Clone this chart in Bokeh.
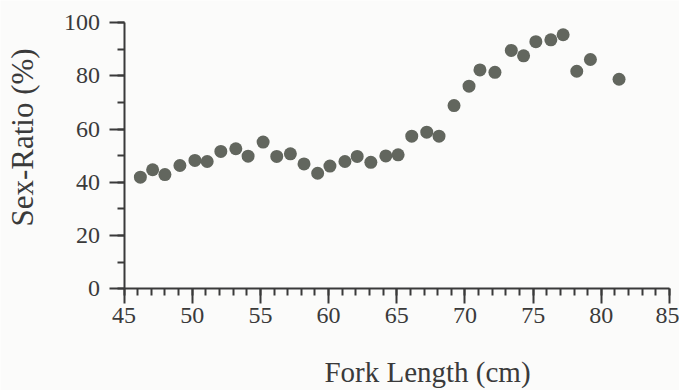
from bokeh.plotting import figure
from bokeh.models import SingleIntervalTicker, Label, LinearAxis, ColumnDataSource
from bokeh.embed import file_html
from bokeh.resources import INLINE

# Sex ratio (% females) by fork-length class
fork_length = [46.2, 47.1, 48.0, 49.1, 50.2, 51.1, 52.1, 53.2, 54.1, 55.2,
               56.2, 57.2, 58.2, 59.2, 60.1, 61.2, 62.1, 63.1, 64.2, 65.1,
               66.1, 67.2, 68.1, 69.2, 70.3, 71.1, 72.2, 73.4, 74.3, 75.2,
               76.3, 77.2, 78.2, 79.2, 81.3]
sex_ratio = [41.9, 44.7, 42.9, 46.3, 48.2, 47.8, 51.6, 52.6, 49.8, 55.1,
             49.7, 50.7, 46.9, 43.4, 46.1, 47.8, 49.7, 47.5, 49.9, 50.3,
             57.3, 58.8, 57.3, 68.8, 76.1, 82.2, 81.3, 89.5, 87.5, 92.8,
             93.5, 95.4, 81.7, 86.1, 78.7]

x_title = "Fork Length (cm)"
y_title = "Sex-Ratio (%)"

INK = "#3a3a3a"
BG = "#fbfbfa"
FONT = "Liberation Serif"

W, H = 679, 390
# the plotting frame fills the canvas; axes are pinned at x=45 and y=0
x_lo, x_hi = 45, 85
y_lo, y_hi = 0, 100
px_left, px_right = 123.5, 669.0
px_top, px_bottom = 22.0, 288.3
ux = (x_hi - x_lo) / (px_right - px_left)
uy = (y_hi - y_lo) / (px_bottom - px_top)

p = figure(width=W, height=H, output_backend="svg", toolbar_location=None,
           x_range=(x_lo - px_left * ux, x_hi + (W - px_right) * ux),
           y_range=(y_lo - (H - px_bottom) * uy, y_hi + px_top * uy),
           x_axis_type=None, y_axis_type=None,
           min_border_left=0, min_border_right=0,
           min_border_top=0, min_border_bottom=0)
p.outline_line_color = None
p.background_fill_color = BG
p.border_fill_color = BG
p.grid.visible = False

src = ColumnDataSource(dict(x=fork_length, y=sex_ratio))
p.scatter("x", "y", source=src, size=13, color="#62665e", line_color=None)

xaxis = LinearAxis(fixed_location=y_lo, bounds=(x_lo, x_hi),
                   ticker=SingleIntervalTicker(interval=5, num_minor_ticks=5))
yaxis = LinearAxis(fixed_location=x_lo, bounds=(y_lo, y_hi),
                   ticker=SingleIntervalTicker(interval=20, num_minor_ticks=2))

for ax in (xaxis, yaxis):
    ax.axis_line_color = INK
    ax.axis_line_width = 2
    ax.major_tick_line_color = INK
    ax.major_tick_line_width = 2
    ax.minor_tick_line_color = INK
    ax.minor_tick_line_width = 2
    ax.major_tick_in = 0
    ax.minor_tick_in = 0
    ax.major_tick_out = 15
    ax.minor_tick_out = 7
    ax.major_label_text_font = FONT
    ax.major_label_text_font_size = "24px"
    ax.major_label_text_color = INK

xaxis.major_label_standoff = 4
yaxis.major_label_standoff = 9
p.add_layout(xaxis, "below")
p.add_layout(yaxis, "left")

# axis titles
p.add_layout(Label(x=427, y=371, x_units="canvas", y_units="canvas",
                   text=x_title, text_font=FONT, text_font_size="29px",
                   text_color=INK, text_align="center", text_baseline="middle"))
p.add_layout(Label(x=22, y=137, x_units="canvas", y_units="canvas",
                   text=y_title, text_font=FONT, text_font_size="31px",
                   text_color=INK, angle=1.5708,
                   text_align="center", text_baseline="middle"))

open("out.html", "w").write(file_html(p, INLINE))
